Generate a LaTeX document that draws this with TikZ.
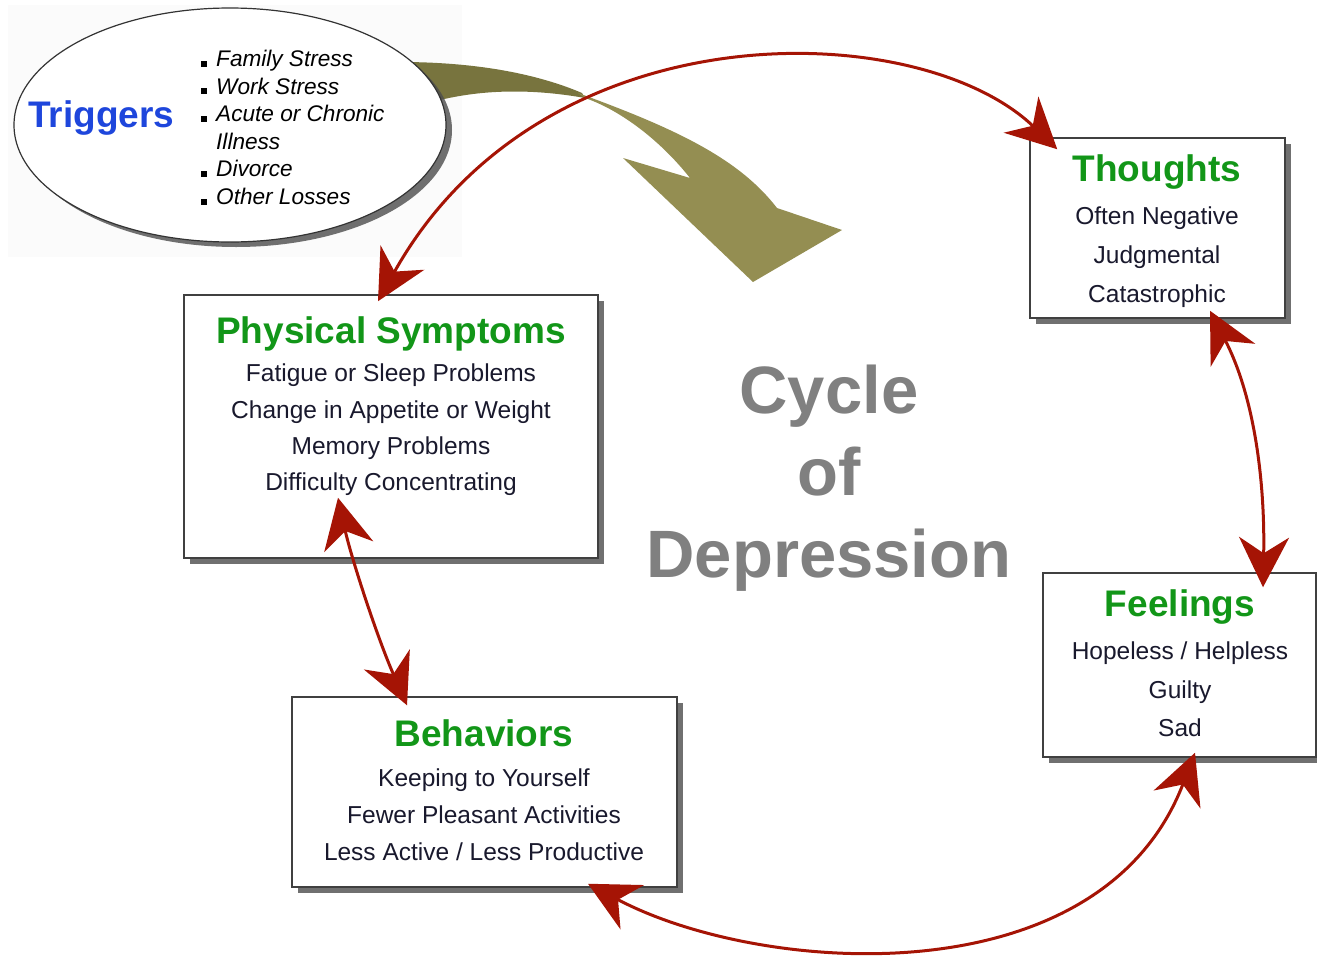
\documentclass[tikz,border=0pt]{standalone}
\usepackage{fontspec}
\setmainfont{Liberation Sans}
\usetikzlibrary{arrows.meta, shadows, shapes.geometric}

\definecolor{titlegreen}{RGB}{18,150,24}
\definecolor{trigblue}{RGB}{30,70,220}
\definecolor{arcred}{RGB}{165,20,5}
\definecolor{olivedark}{RGB}{120,116,62}
\definecolor{olivelight}{RGB}{148,142,82}
\definecolor{bodyink}{RGB}{25,25,45}

\begin{document}
\begin{tikzpicture}[x=1pt, y=-1pt,
  box/.style={draw=black!75, line width=1.5pt, fill=white, inner sep=0pt,
    drop shadow={shadow xshift=6pt, shadow yshift=-6pt, fill=black!70, opacity=0.8}},
  boxtitle/.style={anchor=base, inner sep=0pt, text=titlegreen,
    font=\fontsize{37}{40}\selectfont\bfseries},
  boxbody/.style={anchor=north, inner sep=0pt, align=center, text=bodyink},
  redarc/.style={draw=arcred, line width=3pt,
    {Stealth[length=50pt,width=50pt,inset=16pt]}-{Stealth[length=50pt,width=50pt,inset=16pt]}}]
  \useasboundingbox (0,0) rectangle (1317,956);
  \fill[black!1.5] (8,5) rectangle (462,257);

  % olive arrow out of the triggers
  \fill[olivedark] (400,62) .. controls (480,62) and (540,75) .. (582,93)
    -- (585,98) .. controls (540,90) and (490,88) .. (440,100) -- cycle;
  \fill[olivelight] (578,93) .. controls (680,130) and (740,160) .. (777,208)
    -- (842,230) -- (753,282) -- (623,158) -- (690,178)
    .. controls (660,140) and (620,110) .. (585,98) -- cycle;

  % triggers
  \node[draw=black!80, line width=1.2pt, fill=white, ellipse, minimum width=432pt, minimum height=234pt,
    drop shadow={shadow xshift=6pt, shadow yshift=-5pt, fill=black!70, opacity=0.8}] (trig) at (230,125) {};
  \node[anchor=base west, inner sep=0pt, text=trigblue, font=\fontsize{37}{40}\selectfont\bfseries]
    (trigttl) at (28,127) {Triggers};
  \node[anchor=north west, inner sep=0pt, align=left, font=\fontsize{22.6}{27.6}\selectfont\itshape]
    (triglist) at (201,50) {\rule{6pt}{6pt}\hspace{9pt}Family Stress\\
    \rule{6pt}{6pt}\hspace{9pt}Work Stress\\
    \rule{6pt}{6pt}\hspace{9pt}Acute or Chronic\\
    \hspace*{15pt}Illness\\
    \rule{6pt}{6pt}\hspace{9pt}Divorce\\
    \rule{6pt}{6pt}\hspace{9pt}Other Losses};

  % the four boxes
  \node[box, minimum width=255pt, minimum height=180pt] (thoughts) at (1157.5,228) {};
  \node[boxtitle] (thoughtsttl) at (1157,181) {Thoughts};
  \node[boxbody, font=\fontsize{24.5}{39}\selectfont] (thoughtsbody) at (1157,207)
    {Often Negative\\Judgmental\\Catastrophic};

  \node[box, minimum width=414pt, minimum height=263pt] (phys) at (391,426.5) {};
  \node[boxtitle] (physttl) at (391,343) {Physical Symptoms};
  \node[boxbody, font=\fontsize{24.5}{36.3}\selectfont] (physbody) at (391,364)
    {Fatigue or Sleep Problems\\Change in Appetite or Weight\\Memory Problems\\Difficulty Concentrating};

  \node[box, minimum width=273pt, minimum height=184pt] (feel) at (1179.5,665) {};
  \node[boxtitle] (feelttl) at (1180,616) {Feelings};
  \node[boxbody, font=\fontsize{24.5}{38.5}\selectfont] (feelbody) at (1180,642)
    {Hopeless / Helpless\\Guilty\\Sad};

  \node[box, minimum width=385pt, minimum height=190pt] (behav) at (484.5,792) {};
  \node[boxtitle] (behavttl) at (484,746) {Behaviors};
  \node[boxbody, font=\fontsize{24.5}{37}\selectfont] (behavbody) at (484,769)
    {Keeping to Yourself\\Fewer Pleasant Activities\\Less Active / Less Productive};

  % centre title
  \node[align=center, text=black!50, font=\fontsize{67}{82}\selectfont\bfseries] (cyc) at (829,478)
    {Cycle\\of\\Depression};

  % red arcs of the cycle
  \draw[redarc] ([xshift=-13pt,yshift=-7pt]phys.north) .. controls (543,6) and (918,16) ..
    ([xshift=28pt,yshift=-12pt]thoughts.north west);
  \draw[redarc] ([xshift=52.5pt,yshift=8pt]thoughts.south) .. controls (1256,400) and (1265,488) ..
    ([xshift=83.5pt,yshift=-15pt]feel.north);
  \draw[redarc] ([xshift=15.5pt,yshift=5pt]feel.south) .. controls (1100,1000) and (760,975) ..
    ([xshift=103.5pt,yshift=4pt]behav.south);
  \draw[redarc] ([xshift=-53pt,yshift=61pt]phys.south) .. controls (351,557) and (377,637) ..
    ([xshift=-77.5pt,yshift=-9pt]behav.north);
\end{tikzpicture}
\end{document}
